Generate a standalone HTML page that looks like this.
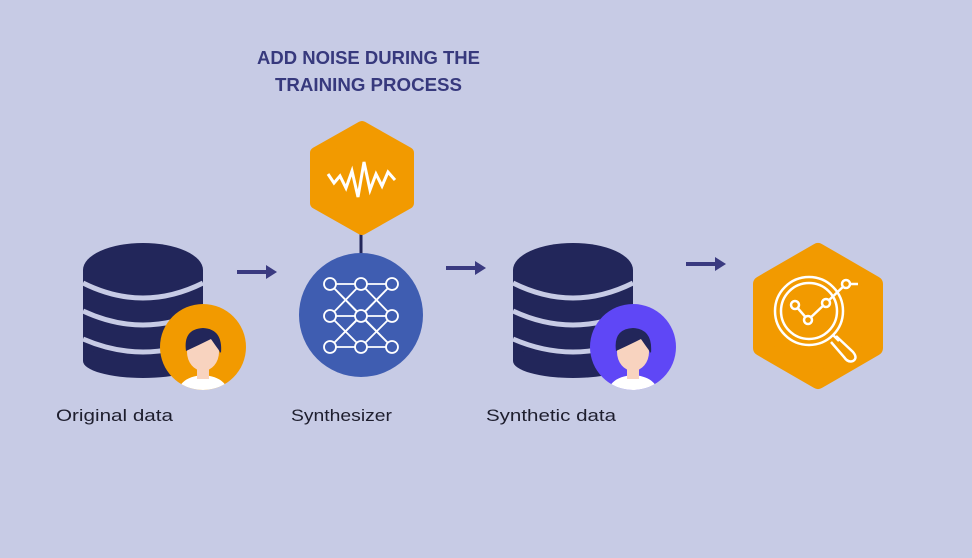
<!DOCTYPE html>
<html><head><style>
html,body{margin:0;padding:0;background:#c7cbe5;}
svg{display:block}
</style></head><body>
<svg width="972" height="558" viewBox="0 0 972 558" xmlns="http://www.w3.org/2000/svg">
<rect width="972" height="558" fill="#c7cbe5"/>
<defs>
<g id="db">
  <rect x="0" y="27" width="120" height="91" fill="#22265a"/>
  <ellipse cx="60" cy="118" rx="60" ry="17" fill="#22265a"/>
  <ellipse cx="60" cy="27" rx="60" ry="27" fill="#22265a"/>
  <path d="M0,40 Q60,70 120,40" fill="none" stroke="#c7cbe5" stroke-width="5"/>
  <path d="M0,68 Q60,96 120,68" fill="none" stroke="#c7cbe5" stroke-width="5"/>
  <path d="M0,96 Q60,122 120,96" fill="none" stroke="#c7cbe5" stroke-width="5"/>
</g>
<g id="person">
  <path d="M-26,43 Q-26,22 0,20 Q26,22 26,43 Z" fill="#ffffff"/>
  <rect x="-6" y="10" width="12" height="14" fill="#f8d3bf"/>
  <ellipse cx="0" cy="-3" rx="16" ry="19" fill="#f8d3bf"/>
  <path d="M-17,-4 Q-20,-26 0,-27 Q20,-26 18,-2 Q12,-10 8,-16 Q-4,-10 -17,-4 Z" fill="#22265a"/>
  <path d="M-16,-8 Q-10,-22 4,-18 Q14,-14 17,-2 Q20,-24 2,-26 Q-18,-26 -16,-8Z" fill="#22265a"/>
</g>
<clipPath id="c1"><circle cx="203" cy="347" r="43"/></clipPath>
<clipPath id="c2"><circle cx="633" cy="347" r="43"/></clipPath>
</defs>

<text x="257" y="64" textLength="223" lengthAdjust="spacingAndGlyphs" font-family="Liberation Sans, sans-serif" font-weight="bold" font-size="18" fill="#37397d">ADD NOISE DURING THE</text>
<text x="275" y="91" textLength="187" lengthAdjust="spacingAndGlyphs" font-family="Liberation Sans, sans-serif" font-weight="bold" font-size="18" fill="#37397d">TRAINING PROCESS</text>

<use href="#db" x="83" y="243"/>
<circle cx="203" cy="347" r="43" fill="#f29a00"/>
<g clip-path="url(#c1)"><use href="#person" x="203" y="355"/></g>

<g stroke="#3a3a80" stroke-width="4" fill="#3a3a80">
  <line x1="237" y1="272" x2="268" y2="272"/><path d="M266,265 L277,272 L266,279 Z" stroke="none"/>
  <line x1="446" y1="268" x2="477" y2="268"/><path d="M475,261 L486,268 L475,275 Z" stroke="none"/>
  <line x1="686" y1="264" x2="717" y2="264"/><path d="M715,257 L726,264 L715,271 Z" stroke="none"/>
</g>

<line x1="361" y1="230" x2="361" y2="256" stroke="#22265a" stroke-width="3"/>
<path d="M362,127 L408,153 L408,203 L362,229 L316,203 L316,153 Z" fill="#f29a00" stroke="#f29a00" stroke-width="12" stroke-linejoin="round"/>
<path d="M328,174 L334,183 L340,176 L346,188 L352,171 L358,197 L364,162 L370,190 L376,174 L382,186 L388,172 L395,180" fill="none" stroke="#fff" stroke-width="3" stroke-linejoin="miter"/>

<circle cx="361" cy="315" r="62" fill="#3f5db1"/>
<g stroke="#fff" stroke-width="1.8" fill="none">
  <line x1="330" y1="284" x2="392" y2="284"/><line x1="330" y1="316" x2="392" y2="316"/><line x1="330" y1="347" x2="392" y2="347"/>
  <path d="M330,284 L361,316 L392,284 M330,284 L392,347 M392,284 L330,347 M361,284 L392,316 L361,347 L330,316 L361,284 M330,347 L361,316 L392,347"/>
  <g fill="#3f5db1">
    <circle cx="330" cy="284" r="6"/><circle cx="361" cy="284" r="6"/><circle cx="392" cy="284" r="6"/>
    <circle cx="330" cy="316" r="6"/><circle cx="361" cy="316" r="6"/><circle cx="392" cy="316" r="6"/>
    <circle cx="330" cy="347" r="6"/><circle cx="361" cy="347" r="6"/><circle cx="392" cy="347" r="6"/>
  </g>
</g>

<use href="#db" x="513" y="243"/>
<circle cx="633" cy="347" r="43" fill="#5f47f6"/>
<g clip-path="url(#c2)"><use href="#person" x="633" y="355"/></g>

<path d="M818,251 L875,284 L875,348 L818,381 L761,348 L761,284 Z" fill="#f29a00" stroke="#f29a00" stroke-width="16" stroke-linejoin="round"/>
<g stroke="#fff" stroke-width="2.5" fill="none">
  <circle cx="809" cy="311" r="34"/>
  <circle cx="809" cy="311" r="28"/>
  <line x1="833" y1="335" x2="839" y2="341"/>
  <path d="M836,336 L853,352 Q858,358 853,361 Q848,363 844,357 L831,342"/>
  <polyline points="795,305 808,320 826,303 846,284 858,284"/>
  <circle cx="795" cy="305" r="4" fill="#f29a00"/>
  <circle cx="808" cy="320" r="4" fill="#f29a00"/>
  <circle cx="826" cy="303" r="4" fill="#f29a00"/>
  <circle cx="846" cy="284" r="4" fill="#f29a00"/>
</g>

<g font-family="Liberation Sans, sans-serif" font-size="17" fill="#1e1e2e">
  <text x="56" y="421" textLength="117" lengthAdjust="spacingAndGlyphs">Original data</text>
  <text x="291" y="421" textLength="101" lengthAdjust="spacingAndGlyphs">Synthesizer</text>
  <text x="486" y="421" textLength="130" lengthAdjust="spacingAndGlyphs">Synthetic data</text>
</g>
</svg>
</body></html>
